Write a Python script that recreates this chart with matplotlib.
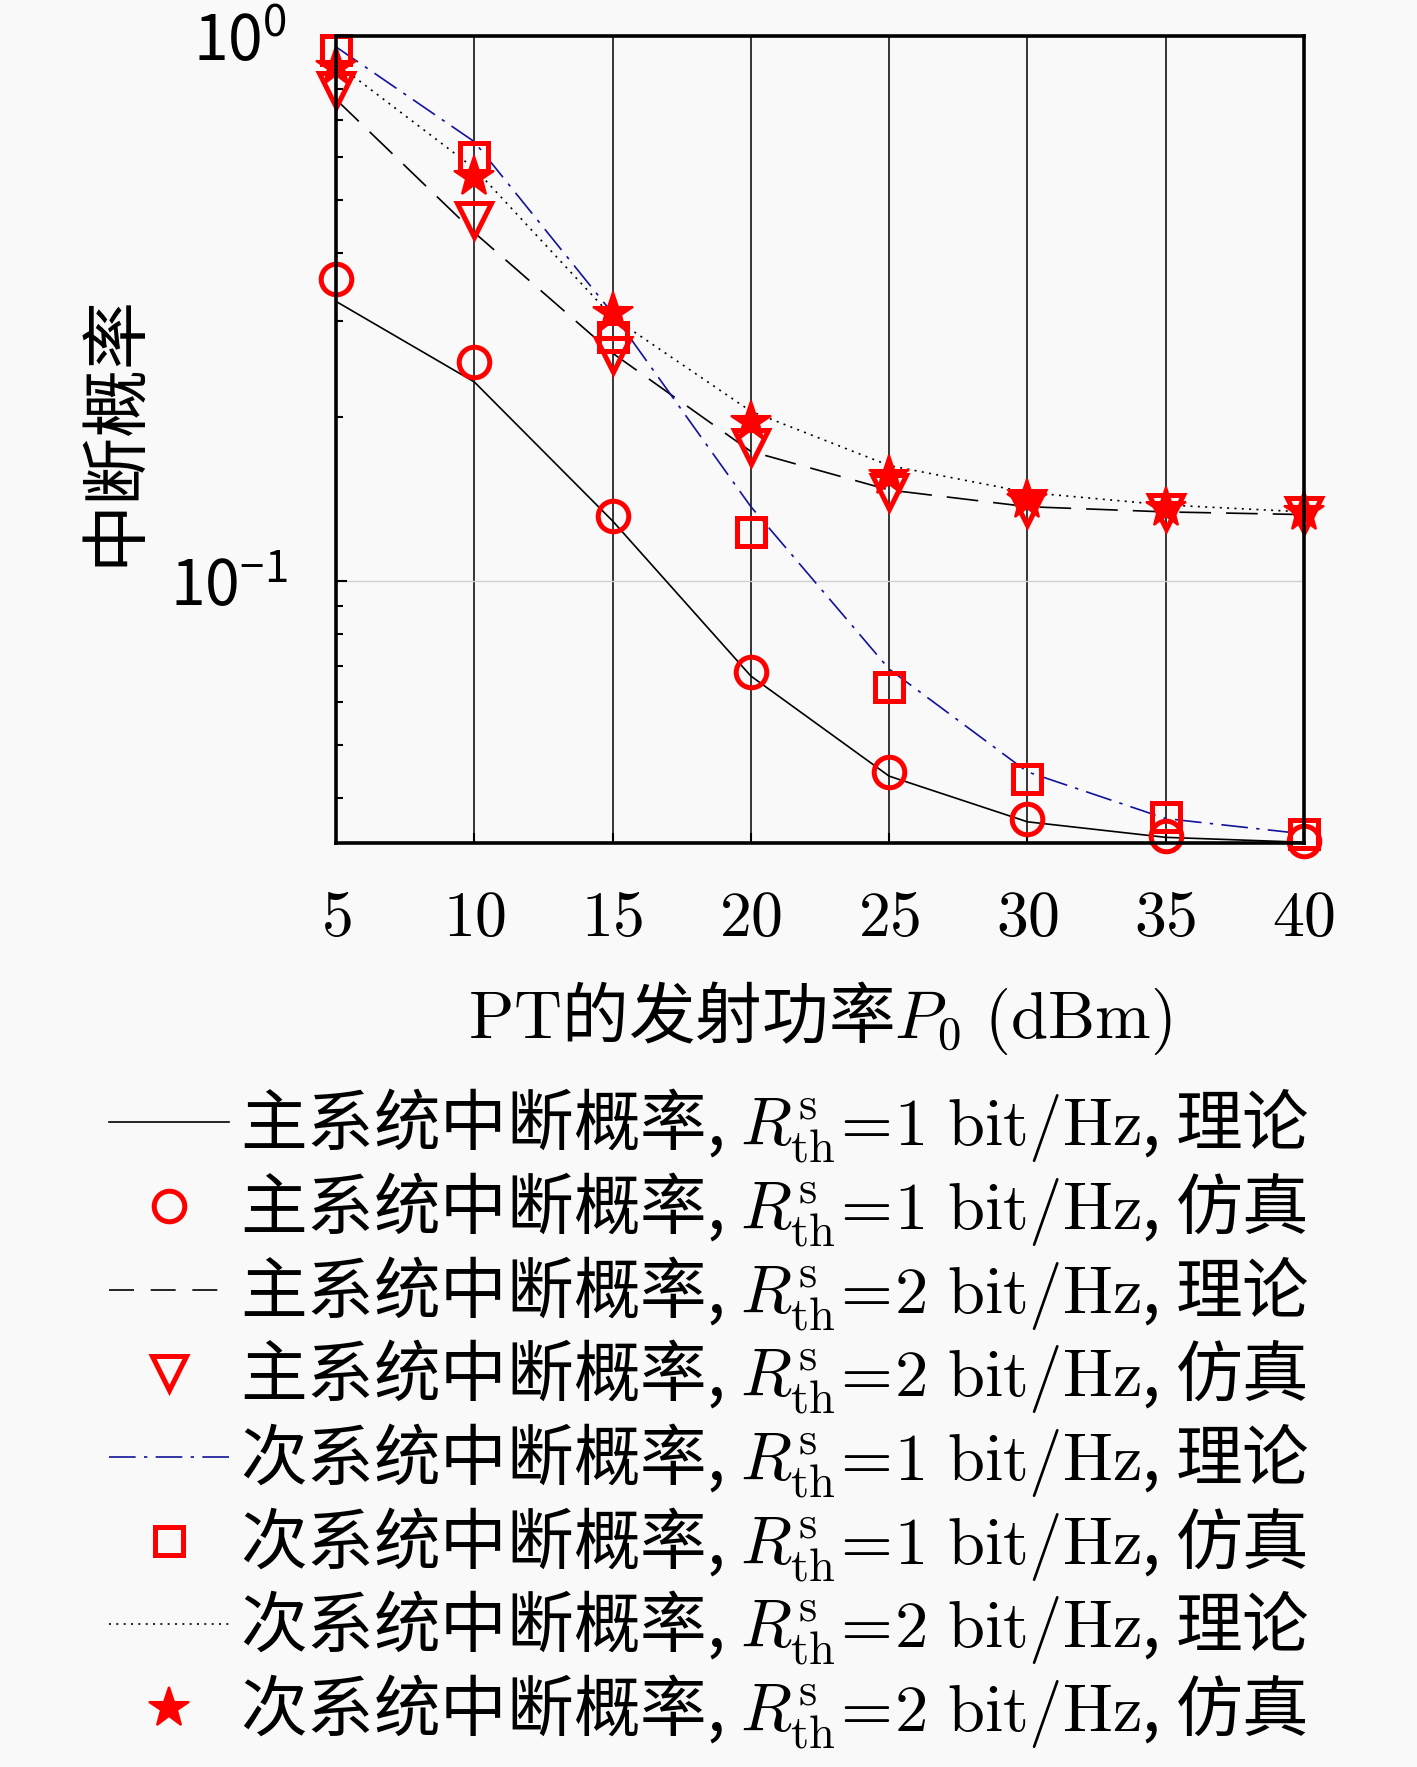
import matplotlib
matplotlib.use("Agg")
import matplotlib.pyplot as plt
from matplotlib.lines import Line2D
from matplotlib.ticker import FixedLocator, FuncFormatter, NullFormatter, LogLocator

plt.rcParams['font.family'] = ['Noto Sans CJK SC', 'DejaVu Sans']
plt.rcParams['mathtext.fontset'] = 'cm'
plt.rcParams['axes.unicode_minus'] = False

# ---------------- data ----------------
x_power = [5, 10, 15, 20, 25, 30, 35, 40]
p_r1_theory = [0.326, 0.232, 0.129, 0.0670, 0.0439, 0.0362, 0.0339, 0.0332]
p_r1_sim = [0.359, 0.252, 0.1315, 0.0681, 0.0447, 0.0367, 0.0341, 0.0334]
p_r2_theory = [0.765, 0.436, 0.262, 0.173, 0.147, 0.137, 0.134, 0.1325]
p_r2_sim = [0.796, 0.460, 0.260, 0.176, 0.1455, 0.136, 0.134, 0.132]
s_r1_theory = [0.955, 0.640, 0.310, 0.137, 0.069, 0.0447, 0.0367, 0.0344]
s_r1_sim = [0.943, 0.600, 0.281, 0.123, 0.064, 0.0434, 0.0370, 0.0344]
s_r2_theory = [0.892, 0.572, 0.305, 0.205, 0.163, 0.1455, 0.138, 0.134]
s_r2_sim = [0.877, 0.552, 0.311, 0.196, 0.156, 0.141, 0.136, 0.134]

x_ticks = [5, 10, 15, 20, 25, 30, 35, 40]
y_limits = (0.0331, 1.0)

rth = r"$R^{\mathrm{s}}_{\mathrm{th}}\!=\!%s\ \mathrm{bit/Hz}$"
labels = [
    "主系统中断概率, " + rth % "1" + ", 理论",
    "主系统中断概率, " + rth % "1" + ", 仿真",
    "主系统中断概率, " + rth % "2" + ", 理论",
    "主系统中断概率, " + rth % "2" + ", 仿真",
    "次系统中断概率, " + rth % "1" + ", 理论",
    "次系统中断概率, " + rth % "1" + ", 仿真",
    "次系统中断概率, " + rth % "2" + ", 理论",
    "次系统中断概率, " + rth % "2" + ", 仿真",
]
xlabel = r"$\mathrm{PT}$的发射功率$P_0\ (\mathrm{dBm})$"
ylabel = "中断概率"

# ---------------- figure ----------------
W, H = 1417, 1767
bg = '#f9f9f9'
fig = plt.figure(figsize=(W / 100, H / 100), dpi=100, facecolor=bg)
ax = fig.add_axes([336 / W, 1 - 843 / H, 968 / W, 807 / H], facecolor=bg)

FS = 46
FS_LEG = 48
lw = 1.2
navy = '#12129a'
red = '#ff0000'

dash_style = (0, (19, 9))
dashdot_style = (0, (16, 5, 2, 5))
dot_style = (0, (1.2, 3.2))

styles = dict(
    circ=dict(marker='o', ms=22, mfc='none', mec=red, mew=3.6, ls='none'),
    tri=dict(marker='v', ms=25, mfc='none', mec=red, mew=3.6, ls='none'),
    sq=dict(marker='s', ms=20, mfc='none', mec=red, mew=3.6, ls='none'),
    star=dict(marker='*', ms=30, mfc=red, mec=red, mew=1.5, ls='none'),
)

h1, = ax.plot(x_power, p_r1_theory, color='black', lw=lw, ls='-', zorder=3)
h3, = ax.plot(x_power, p_r2_theory, color='black', lw=lw, ls=dash_style, zorder=3)
h5, = ax.plot(x_power, s_r1_theory, color=navy, lw=lw, ls=dashdot_style, zorder=3)
h7, = ax.plot(x_power, s_r2_theory, color='black', lw=lw, ls=dot_style, zorder=3)
h2, = ax.plot(x_power, p_r1_sim, zorder=4, clip_on=False, **styles['circ'])
h4, = ax.plot(x_power, p_r2_sim, zorder=4, clip_on=False, **styles['tri'])
h6, = ax.plot(x_power, s_r1_sim, zorder=4, clip_on=False, **styles['sq'])
h8, = ax.plot(x_power, s_r2_sim, zorder=4, clip_on=False, **styles['star'])

ax.set_yscale('log')
ax.set_xlim(5, 40)
ax.set_ylim(*y_limits)

ax.xaxis.set_major_locator(FixedLocator(x_ticks))
ax.xaxis.set_major_formatter(FuncFormatter(lambda v, p: r"$%d$" % v))
ax.yaxis.set_major_locator(LogLocator(base=10, numticks=10))
ax.yaxis.set_minor_locator(LogLocator(base=10, subs=range(2, 10), numticks=20))
ax.yaxis.set_minor_formatter(NullFormatter())

ax.tick_params(axis='both', which='both', direction='in', top=False, right=False)
ax.tick_params(axis='x', which='major', length=7, width=1.5, labelsize=FS, pad=30)
ax.tick_params(axis='y', which='major', length=8, width=1.5, labelsize=45, pad=35)
ax.tick_params(axis='y', which='minor', length=5, width=1.5)

ax.xaxis.grid(True, color='black', lw=1.1)
ax.yaxis.grid(True, which='major', color='#d0d0d0', lw=1.0)
ax.set_axisbelow(True)

for s in ax.spines.values():
    s.set_linewidth(2.6)
    s.set_zorder(5)

ax.set_xlabel(xlabel, fontsize=48, labelpad=20)
ax.set_ylabel(ylabel, fontsize=49)
ax.yaxis.set_label_coords(-0.192, 0.512)

# legend handles
lh = [
    Line2D([], [], color='black', lw=lw, ls='-'),
    Line2D([], [], **styles['circ']),
    Line2D([], [], color='black', lw=lw, ls=(0, (15, 10))),
    Line2D([], [], **styles['tri']),
    Line2D([], [], color=navy, lw=lw, ls=dashdot_style),
    Line2D([], [], **styles['sq']),
    Line2D([], [], color='black', lw=lw, ls=dot_style),
    Line2D([], [], **styles['star']),
]
fig.legend(lh, labels, loc='upper left', bbox_to_anchor=(109 / W, 1 - 1087 / H),
           bbox_transform=fig.transFigure, frameon=False, fontsize=FS_LEG,
           borderpad=0, borderaxespad=0, handlelength=1.8, handletextpad=0.17,
           labelspacing=0.08, numpoints=1)

fig.savefig('out.png', dpi=100, facecolor=bg)
